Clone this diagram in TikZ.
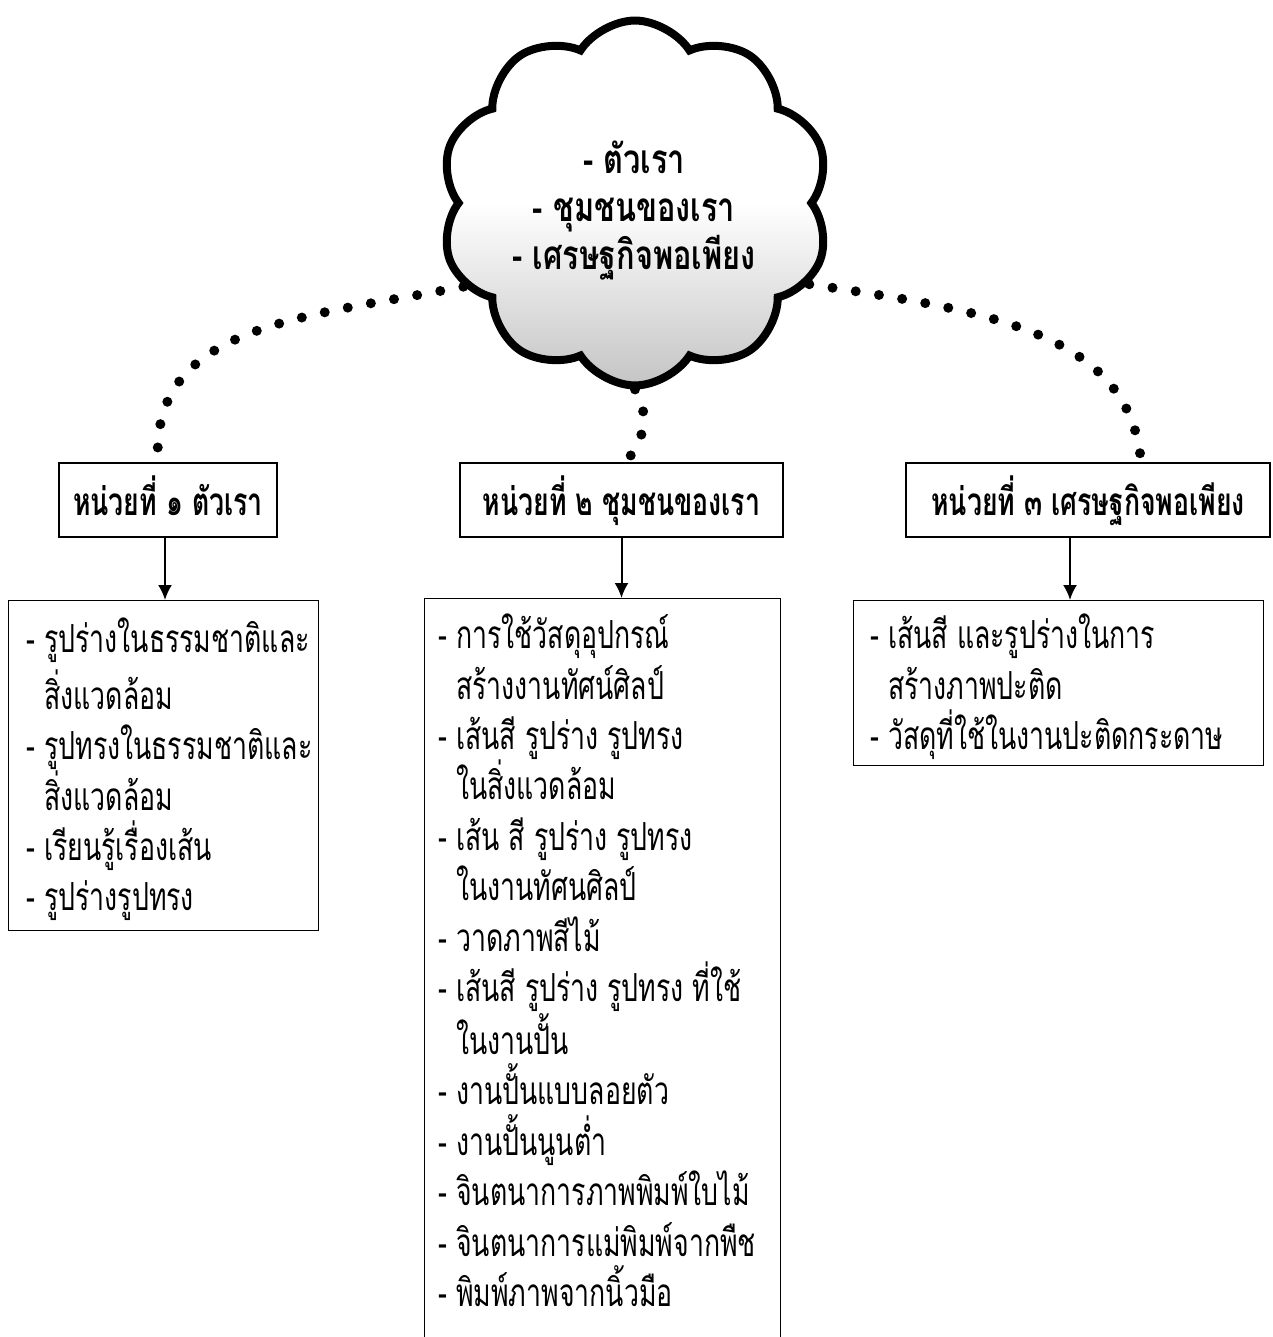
\documentclass[tikz,border=0pt]{standalone}
\usepackage{fontspec}
\newfontfamily\thaifont[Script=Thai,FakeStretch=0.69]{Loma}
\newfontfamily\thaicloud[Script=Thai,FakeStretch=0.76]{Loma}
\usetikzlibrary{shapes.symbols,arrows.meta,backgrounds}
\begin{document}
\begin{tikzpicture}[x=0.02cm,y=-0.02cm,
  hdr/.style={draw, line width=0.028cm, minimum height=1.48cm, inner sep=0pt,
    text height=0.9cm, text depth=0.26cm,
    font=\thaifont\bfseries\fontsize{22}{27}\selectfont},
  boxc/.style={draw, line width=0.028cm, anchor=north west, inner sep=0pt},
  txt/.style={anchor=north west, inner sep=0pt, align=left,
    font=\thaifont\fontsize{22}{28.7}\selectfont},
  arr/.style={line width=0.04cm, -{Latex[length=0.3cm,width=0.28cm]}},
  dotline/.style={line width=0.2cm, dash pattern=on 0pt off 0.47cm, line cap=round}]
\useasboundingbox (0,0) rectangle (1272,1337);

% cloud
\node[cloud, draw, line width=0.16cm, cloud puffs=10, cloud puff arc=115,
  minimum width=7.8cm, minimum height=7.3cm,
  top color=white, bottom color=black!23, middle color=white]
  (cl) at (635,203) {};
\node[align=center, inner sep=0pt, font=\thaicloud\bfseries\fontsize{23}{27.3}\selectfont]
  (ct) at (634,211) {- ตัวเรา\\- ชุมชนของเรา\\- เศรษฐกิจพอเพียง};

% headers
\node[hdr, minimum width=4.36cm] (h1) at (168,500) {หน่วยที่ ๑ ตัวเรา};
\node[hdr, minimum width=6.46cm] (h2) at (621.5,500) {หน่วยที่ ๒ ชุมชนของเรา};
\node[hdr, minimum width=7.28cm] (h3) at (1088,500) {หน่วยที่ ๓ เศรษฐกิจพอเพียง};

% content boxes
\node[boxc, minimum width=6.2cm, minimum height=6.6cm] (b1) at (8,600) {};
\node[boxc, minimum width=7.12cm, minimum height=16cm] (b2) at (424,598) {};
\node[boxc, minimum width=8.2cm, minimum height=3.3cm] (b3) at (853,600) {};

% texts
\node[txt] (t1) at (26,617) {\strut- รูปร่างในธรรมชาติและ\\
\phantom{- }สิ่งแวดล้อม\\
- รูปทรงในธรรมชาติและ\\
\phantom{- }สิ่งแวดล้อม\\
- เรียนรู้เรื่องเส้น\\
- รูปร่างรูปทรง};

\node[txt] (t2) at (438,613) {\strut- การใช้วัสดุอุปกรณ์\\
\phantom{- }สร้างงานทัศน์ศิลป์\\
- เส้นสี รูปร่าง รูปทรง\\
\phantom{- }ในสิ่งแวดล้อม\\
- เส้น สี รูปร่าง รูปทรง\\
\phantom{- }ในงานทัศนศิลป์\\
- วาดภาพสีไม้\\
- เส้นสี รูปร่าง รูปทรง ที่ใช้\\
\phantom{- }ในงานปั้น\\
- งานปั้นแบบลอยตัว\\
- งานปั้นนูนต่ำ\\
- จินตนาการภาพพิมพ์ใบไม้\\
- จินตนาการแม่พิมพ์จากพืช\\
- พิมพ์ภาพจากนิ้วมือ};

\node[txt] (t3) at (870,613) {\strut- เส้นสี และรูปร่างในการ\\
\phantom{- }สร้างภาพปะติด\\
- วัสดุที่ใช้ในงานปะติดกระดาษ};

% arrows
\coordinate (a1) at ([xshift=-0.06cm]h1.south);
\draw[arr] (a1) -- (a1 |- b1.north);
\draw[arr] (h2.south) -- (h2.south |- b2.north);
\coordinate (a3) at ([xshift=-0.36cm]h3.south);
\draw[arr] (a3) -- (a3 |- b3.north);

% dotted connectors
\coordinate (e1) at ([xshift=-0.2cm]h1.north);
\coordinate (e2) at ([xshift=0.09cm]h2.north);
\coordinate (e3) at ([xshift=1.06cm]h3.north);
\begin{scope}[on background layer]
\draw[dotline] (cl.206) .. controls (300,318) and (150,325) .. (e1);
\draw[dotline] (cl.south) .. controls (652,420) and (642,440) .. (e2);
\draw[dotline] (cl.335) .. controls (980,310) and (1130,330) .. (e3);
\end{scope}
\end{tikzpicture}
\end{document}
